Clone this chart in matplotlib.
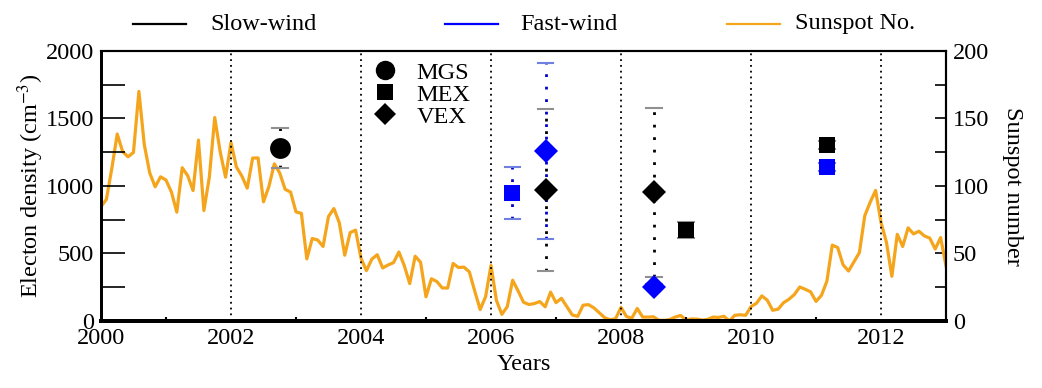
import numpy as np
import matplotlib
matplotlib.use("Agg")
import matplotlib.pyplot as plt
from matplotlib.lines import Line2D

plt.rcParams['font.family'] = ['Liberation Serif', 'DejaVu Serif']
plt.rcParams['mathtext.fontset'] = 'stix'

# Monthly sunspot numbers, Dec 1999 .. Dec 2012
sunspot = [84.6,
    90.1, 112.9, 138.5, 125.5, 121.6, 124.9, 170.1, 130.5, 109.7, 99.4, 106.8, 104.4,
    95.6, 80.6, 113.5, 107.7, 96.6, 134.0, 81.8, 106.4, 150.7, 125.5, 106.5, 132.2,
    114.1, 107.4, 98.4, 120.7, 120.8, 88.3, 99.6, 116.4, 109.6, 97.5, 95.5, 80.8,
    79.7, 46.0, 61.1, 60.0, 55.2, 77.4, 83.3, 72.7, 48.7, 65.5, 67.3, 46.5,
    37.3, 45.8, 49.1, 39.3, 41.5, 43.2, 51.1, 40.9, 27.7, 48.0, 43.5, 17.9,
    31.3, 29.2, 24.5, 24.4, 42.6, 39.6, 39.9, 36.4, 22.1, 8.5, 18.0, 41.2,
    15.3, 4.9, 10.6, 30.2, 22.3, 13.9, 12.2, 12.9, 14.4, 10.5, 21.4, 13.6,
    16.8, 10.7, 4.5, 3.4, 11.7, 12.1, 9.7, 6.0, 2.4, 0.9, 1.7, 10.1,
    3.3, 2.1, 9.3, 2.9, 2.9, 3.1, 0.5, 0.5, 1.1, 2.9, 4.1, 0.8,
    1.5, 1.4, 0.7, 1.2, 2.9, 2.6, 3.5, 0.0, 4.2, 4.6, 4.2, 10.6,
    13.1, 18.6, 15.4, 7.9, 8.8, 13.5, 16.1, 19.6, 25.2, 23.5, 21.6, 14.5,
    19.0, 29.4, 56.2, 54.4, 41.6, 37.0, 43.8, 50.6, 78.0, 88.0, 96.7, 73.0,
    58.3, 33.1, 64.2, 55.2, 69.0, 64.5, 66.5, 63.0, 61.4, 53.3, 61.8, 40.8]
sunspot_start_year = 2000.0
months_per_year = 12

# Electron density measurements
slow_mission = ['MGS', 'VEX', 'VEX', 'MEX', 'MEX']
slow_year = [2002.75, 2006.84, 2008.51, 2009.0, 2011.17]
slow_dens = [1280, 968, 953, 674, 1304]
slow_lo = [150, 598, 625, 60, 30]
slow_hi = [147, 600, 625, 60, 30]

fast_mission = ['MEX', 'VEX', 'VEX', 'MEX']
fast_year = [2006.33, 2006.84, 2008.51, 2011.17]
fast_dens = [946, 1259, 254, 1143]
fast_lo = [190, 649, 20, 30]
fast_hi = [191, 650, 20, 30]

legend_labels = ['Slow-wind', 'Fast-wind', 'Sunspot No.']
mission_labels = ['MGS', 'MEX', 'VEX']

markers = {'MGS': 'o', 'MEX': 's', 'VEX': 'D'}
msizes = {'MGS': 15, 'MEX': 12, 'VEX': 12}

orange = '#F5A51C'
blue = '#0000FF'
W, H = 1042, 388

fig = plt.figure(figsize=(10.42, 3.88), dpi=100)
ax = fig.add_axes([0.0969, 0.1727, 0.811, 0.6959])
ax2 = ax.twinx()
ax2.set_zorder(ax.get_zorder() - 1)
ax.patch.set_visible(False)

sx = sunspot_start_year + np.arange(len(sunspot)) / months_per_year
ax2.plot(sx, sunspot, color=orange, lw=2.3, zorder=2)
ax2.set_ylim(0, 200)

# vertical dotted grid at even years
for yr in range(2002, 2013, 2):
    ax.axvline(yr, color='black', ls=(0, (1, 2.2)), lw=1.3, zorder=1)

def draw(years, dens, lo, hi, missions, color, linecolor, capcolor):
    for x, y, l, h, m in zip(years, dens, lo, hi, missions):
        ax.plot([x, x], [y - l, y + h], color=linecolor, ls=(0, (1, 3.5)), lw=2, zorder=3)
        cw = 0.12
        ax.plot([x - cw, x + cw], [y - l, y - l], color=capcolor, lw=1.5, zorder=3)
        ax.plot([x - cw, x + cw], [y + h, y + h], color=capcolor, lw=1.5, zorder=3)
        ax.plot([x], [y], marker=markers[m], ms=msizes[m], color=color,
                ls='none', zorder=4, markeredgewidth=0)

draw(fast_year, fast_dens, fast_lo, fast_hi, fast_mission, blue, '#0000CC', '#7080E0')
draw(slow_year, slow_dens, slow_lo, slow_hi, slow_mission, 'black', 'black', '#909090')

ax.set_xlim(2000, 2013)
ax.set_ylim(0, 2000)
ax.set_xticks(range(2000, 2013, 2))
ax.set_xticks(range(2001, 2013, 2), minor=True)
ax.set_yticks(range(0, 2001, 500))
ax.set_yticks(range(250, 2000, 500), minor=True)
ax2.set_yticks(range(0, 201, 50))
ax2.set_yticks(range(25, 200, 50), minor=True)

fs = 17.5
ax.tick_params(axis='x', which='major', direction='in', length=0, labelsize=fs, pad=5)
ax.tick_params(axis='x', which='minor', direction='in', length=3, width=1.5)
ax.tick_params(axis='y', which='both', direction='in', length=17, width=1.2, labelsize=fs, pad=5)
ax.tick_params(axis='y', which='minor', labelleft=False)
ax.tick_params(top=False, right=False)
ax2.tick_params(axis='y', which='both', direction='in', length=8, width=1.2, labelsize=fs, pad=5)

for a in (ax, ax2):
    a.spines['bottom'].set_linewidth(2.8)
    a.spines['left'].set_linewidth(2.0)
    a.spines['top'].set_linewidth(1.5)
    a.spines['right'].set_linewidth(1.5)

ax.set_xlabel('Years', fontsize=fs, labelpad=4)
ax.set_ylabel('Electon density (cm$^{-3}$)', fontsize=fs, labelpad=0)
ax2.set_ylabel('Sunspot number', fontsize=fs, rotation=270, labelpad=24)

# top legend (drawn in figure pixel coordinates)
leg_y = 1 - 24 / H
leg_colors = ['black', blue, orange]
leg_line_x = [(133, 186), (445, 498), (727, 780)]
leg_text_x = [210, 520, 795]
for lab, c, (x0, x1), tx in zip(legend_labels, leg_colors, leg_line_x, leg_text_x):
    fig.add_artist(Line2D([x0 / W, x1 / W], [leg_y, leg_y], color=c, lw=1.6,
                          transform=fig.transFigure))
    fig.text(tx / W, leg_y, lab, fontsize=fs, va='center', ha='left')

# mission legend
mh = [Line2D([], [], marker=markers[m], color='black', ls='none', ms=msizes[m] - 1,
             markeredgewidth=0) for m in mission_labels]
ax.legend(mh, mission_labels, loc='upper left', bbox_to_anchor=(0.29, 1.015),
          frameon=False, fontsize=fs, handletextpad=0.3, labelspacing=0.0,
          borderaxespad=0.2)

fig.savefig('out.png', dpi=100)
